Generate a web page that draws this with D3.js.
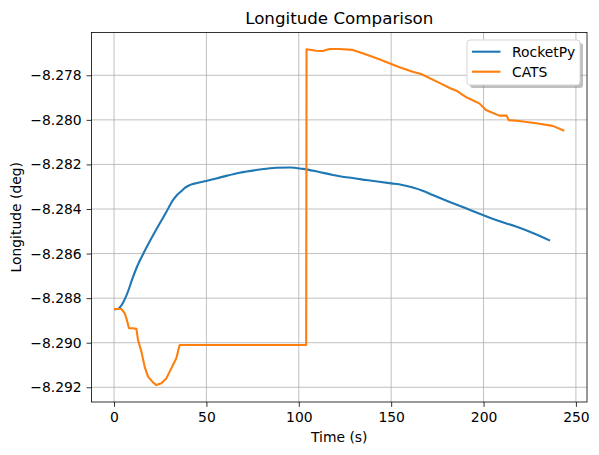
<!DOCTYPE html>
<html>
<head>
<meta charset="utf-8">
<title>Longitude Comparison</title>
<script src="https://cdnjs.cloudflare.com/ajax/libs/d3/7.8.5/d3.min.js"></script>
<style>
    html, body {
        margin: 0;
        padding: 0;
        background: #fff;
    }
    svg text {
        font-family: "DejaVu Sans", sans-serif;
        fill: #000;
    }
</style>
</head>
<body>
<div id="chart"></div>
<script>
    // RocketPy simulated longitude (time s, longitude deg)
    const rocketTime = [0, 2, 3.5, 5, 6.5, 8, 9.7, 12.5, 16.5, 20, 24, 28, 31.9, 34, 36.4, 38.5, 40.9, 45, 49.9, 58, 68, 78, 87.8, 95, 102.2, 110, 118.4, 127, 136.5, 150, 156, 161.7, 167, 172.5, 181, 190.5, 200, 208, 217.6, 227, 236];
    const rocketLon = [-8.28850, -8.28849, -8.28838, -8.28818, -8.28792, -8.28760, -8.28718, -8.28658, -8.28590, -8.28535, -8.28475, -8.28418, -8.28360, -8.28338, -8.28320, -8.28304, -8.28293, -8.28283, -8.28274, -8.28257, -8.28237, -8.28224, -8.28215, -8.28214, -8.28220, -8.28232, -8.28247, -8.28259, -8.28270, -8.28285, -8.28292, -8.28304, -8.28318, -8.28337, -8.28366, -8.28397, -8.28428, -8.28453, -8.28479, -8.28509, -8.28542];

    // CATS flight computer longitude
    const catsTime = [0, 4, 5.8, 7, 8.1, 10.3, 12.1, 13, 14.8, 16.6, 18.4, 21.1, 22.9, 25.6, 28.3, 31, 33.7, 35.5, 36.4, 104, 104.2, 109.4, 113, 116.6, 122, 129.2, 134.6, 143.6, 149, 154.5, 161.7, 166.2, 176.1, 182, 186, 188.7, 191, 197.7, 201.3, 208.5, 212.5, 213.6, 219.3, 228.4, 237.4, 243.7];
    const catsLon = [-8.28849, -8.28849, -8.28868, -8.28900, -8.28935, -8.28935, -8.28938, -8.28988, -8.29040, -8.29108, -8.29152, -8.29178, -8.29190, -8.29182, -8.29160, -8.29115, -8.29070, -8.29010, -8.29010, -8.29010, -8.27683, -8.27690, -8.27691, -8.27682, -8.27682, -8.27686, -8.27701, -8.27728, -8.27746, -8.27764, -8.27784, -8.27794, -8.27834, -8.27858, -8.27872, -8.27888, -8.27900, -8.27926, -8.27956, -8.27981, -8.27981, -8.28001, -8.28005, -8.28015, -8.28027, -8.28049];

    const xTicks = [0, 50, 100, 150, 200, 250];
    const yTicks = [-8.292, -8.290, -8.288, -8.286, -8.284, -8.282, -8.280, -8.278];
    const seriesNames = ["RocketPy", "CATS"];
    const seriesColors = ["#1f77b4", "#ff7f0e"];

    const width = 599, height = 455;
    const margin = { left: 91.5, right: 12, top: 32.5, bottom: 53 };
    const plotW = width - margin.left - margin.right;
    const plotH = height - margin.top - margin.bottom;

    const svg = d3.select("#chart")
        .append("svg")
        .attr("width", width)
        .attr("height", height);

    const xScale = d3.scaleLinear()
        .domain([-12.2, 256.0])
        .range([margin.left, margin.left + plotW]);

    const yScale = d3.scaleLinear()
        .domain([-8.29266, -8.27608])
        .range([margin.top + plotH, margin.top]);

    // grid
    const grid = svg.append("g");
    grid.selectAll(".vgrid")
        .data(xTicks)
        .enter()
        .append("line")
        .attr("x1", d => xScale(d))
        .attr("x2", d => xScale(d))
        .attr("y1", margin.top)
        .attr("y2", margin.top + plotH)
        .attr("stroke", "#b0b0b0")
        .attr("stroke-width", 0.8);
    grid.selectAll(".hgrid")
        .data(yTicks)
        .enter()
        .append("line")
        .attr("x1", margin.left)
        .attr("x2", margin.left + plotW)
        .attr("y1", d => yScale(d))
        .attr("y2", d => yScale(d))
        .attr("stroke", "#b0b0b0")
        .attr("stroke-width", 0.8);

    // lines
    const line = d3.line()
        .x(d => xScale(d[0]))
        .y(d => yScale(d[1]));

    const smoothLine = d3.line()
        .curve(d3.curveMonotoneX)
        .x(d => xScale(d[0]))
        .y(d => yScale(d[1]));

    const rocketData = rocketTime.map((t, i) => [t, rocketLon[i]]);
    const catsData = catsTime.map((t, i) => [t, catsLon[i]]);

    svg.append("path")
        .datum(rocketData)
        .attr("d", smoothLine)
        .attr("fill", "none")
        .attr("stroke", seriesColors[0])
        .attr("stroke-width", 2.1)
        .attr("stroke-linejoin", "round");

    svg.append("path")
        .datum(catsData)
        .attr("d", line)
        .attr("fill", "none")
        .attr("stroke", seriesColors[1])
        .attr("stroke-width", 2.1)
        .attr("stroke-linejoin", "round");

    // axes
    const xAxis = d3.axisBottom(xScale)
        .tickValues(xTicks)
        .tickFormat(d3.format("d"))
        .tickSize(4.9)
        .tickPadding(4.9);

    const yAxis = d3.axisLeft(yScale)
        .tickValues(yTicks)
        .tickFormat(d => d3.format(".3f")(d).replace("-", "\u2212"))
        .tickSize(4.9)
        .tickPadding(4.9);

    const gx = svg.append("g")
        .attr("transform", "translate(0," + (margin.top + plotH) + ")")
        .call(xAxis);
    const gy = svg.append("g")
        .attr("transform", "translate(" + margin.left + ",0)")
        .call(yAxis);

    [gx, gy].forEach(g => {
        g.select(".domain").remove();
        g.selectAll(".tick line").attr("stroke", "#000").attr("stroke-width", 0.8);
        g.selectAll(".tick text")
            .style("font-size", "13.9px")
            .style("font-family", "'DejaVu Sans', sans-serif");
    });

    // frame
    svg.append("rect")
        .attr("x", margin.left)
        .attr("y", margin.top)
        .attr("width", plotW)
        .attr("height", plotH)
        .attr("fill", "none")
        .attr("stroke", "#000")
        .attr("stroke-width", 0.8);

    // labels
    svg.append("text")
        .attr("x", margin.left + plotW / 2)
        .attr("y", 24)
        .attr("text-anchor", "middle")
        .style("font-size", "16.7px")
        .text("Longitude Comparison");

    svg.append("text")
        .attr("x", margin.left + plotW / 2)
        .attr("y", 442)
        .attr("text-anchor", "middle")
        .style("font-size", "13.9px")
        .text("Time (s)");

    svg.append("text")
        .attr("transform", "translate(21," + (margin.top + plotH / 2) + ") rotate(-90)")
        .attr("text-anchor", "middle")
        .style("font-size", "13.9px")
        .text("Longitude (deg)");

    // legend
    const legend = svg.append("g")
        .attr("transform", "translate(467,40)");

    legend.append("rect")
        .attr("x", 3)
        .attr("y", 3)
        .attr("width", 113)
        .attr("height", 45)
        .attr("rx", 3)
        .attr("fill", "#808080")
        .attr("opacity", 0.5);

    legend.append("rect")
        .attr("width", 113)
        .attr("height", 45)
        .attr("rx", 3)
        .attr("fill", "#fff")
        .attr("stroke", "#d6d6d6")
        .attr("stroke-width", 1);

    seriesNames.forEach((name, i) => {
        legend.append("line")
            .attr("x1", 5)
            .attr("x2", 33.5)
            .attr("y1", 11.7 + i * 20)
            .attr("y2", 11.7 + i * 20)
            .attr("stroke", seriesColors[i])
            .attr("stroke-width", 2.1);
        legend.append("text")
            .attr("x", 45)
            .attr("y", 11.7 + i * 20)
            .attr("dy", "0.36em")
            .style("font-size", "13.9px")
            .text(name);
    });
</script>
</body>
</html>
